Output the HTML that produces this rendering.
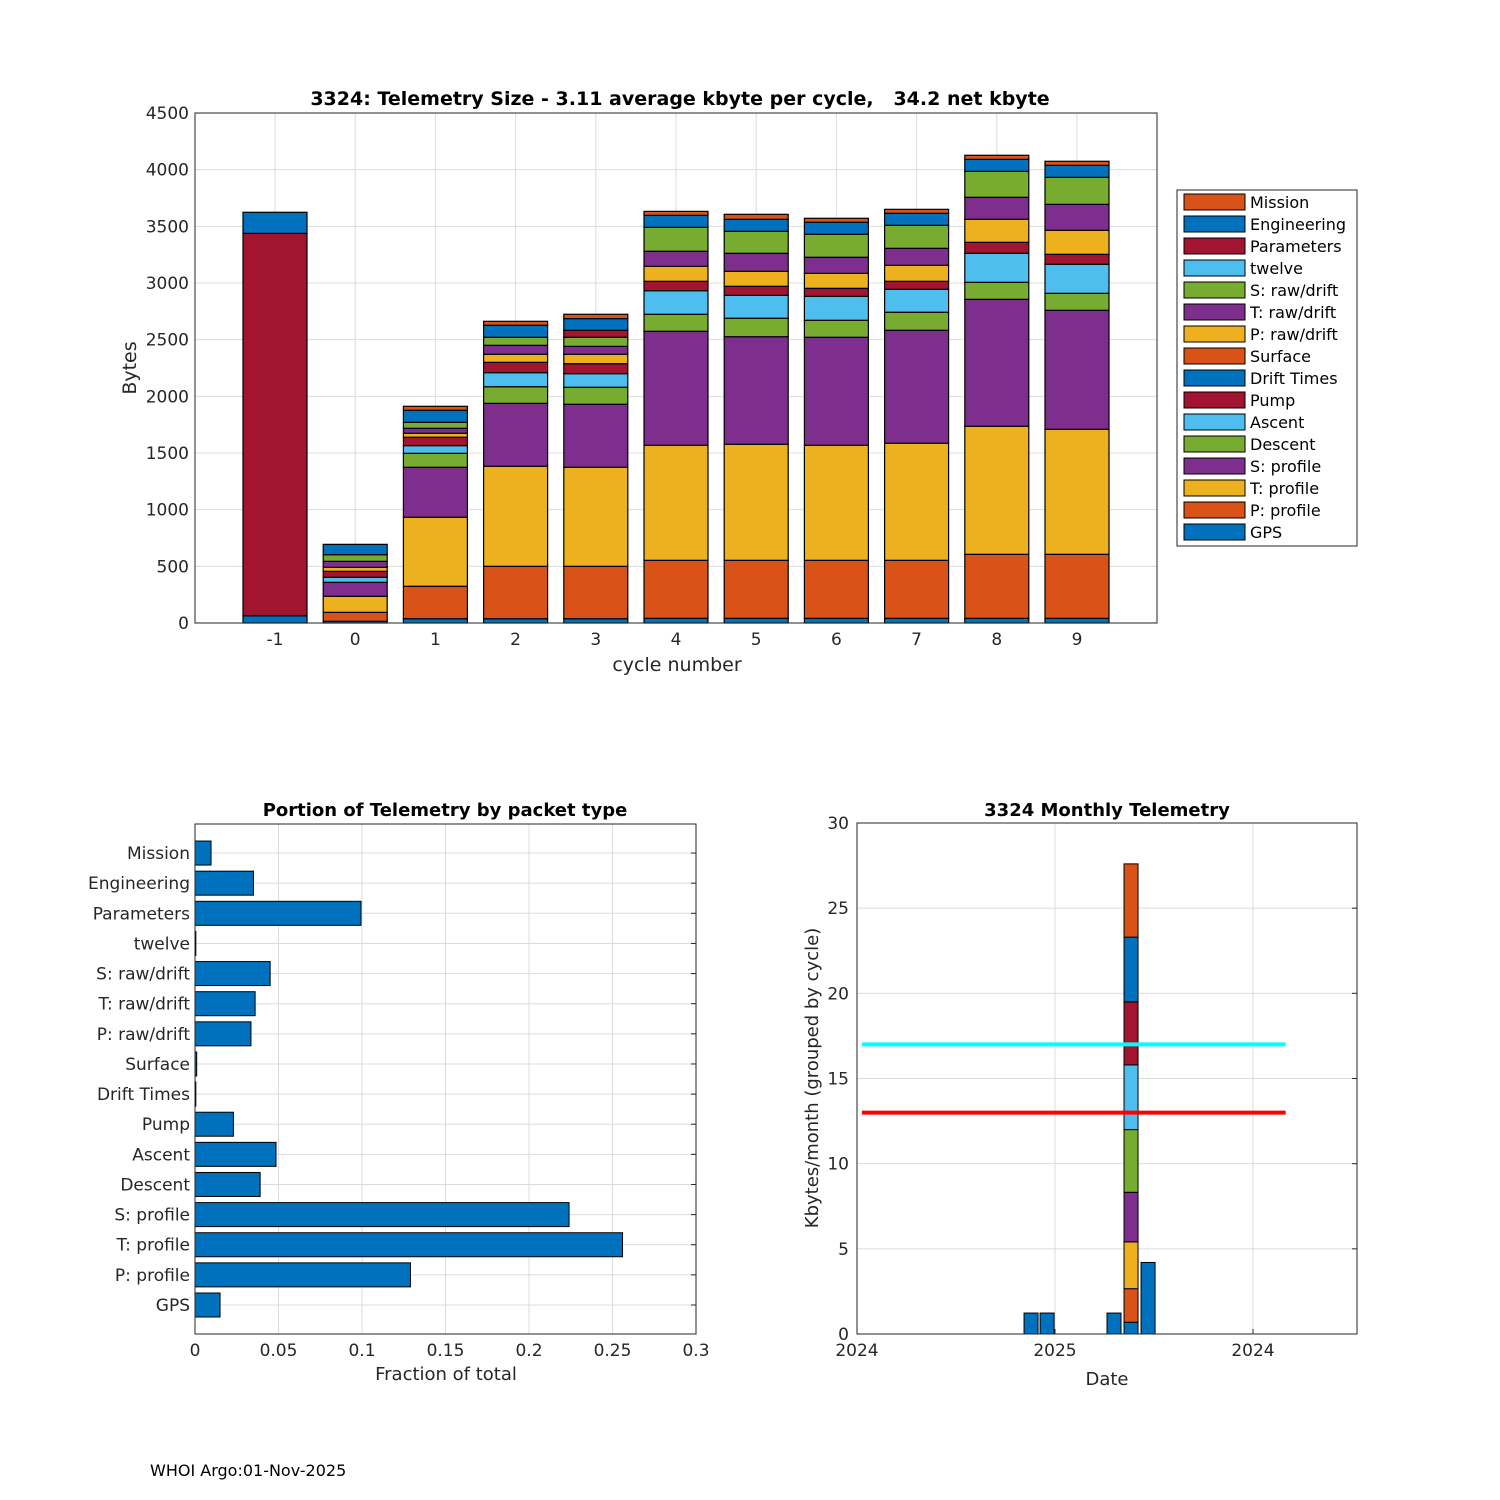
<!DOCTYPE html>
<html><head><meta charset="utf-8"><style>
body{margin:0;background:#fff;}
svg{display:block;font-family:"DejaVu Sans","Liberation Sans",sans-serif;}
</style></head><body>
<svg id="fig" width="1500" height="1500" viewBox="0 0 1500 1500" xmlns="http://www.w3.org/2000/svg"></svg>
<script>
// ---------- Top chart data ----------
const cycles = [-1,0,1,2,3,4,5,6,7,8,9];
const packetNames = ["GPS","P: profile","T: profile","S: profile","Descent","Ascent","Pump","Drift Times","Surface","P: raw/drift","T: raw/drift","S: raw/drift","twelve","Parameters","Engineering","Mission"];
const packetColors = ["#0072BD","#D95319","#EDB120","#7E2F8E","#77AC30","#4DBEEE","#A2142F","#0072BD","#D95319","#EDB120","#7E2F8E","#77AC30","#4DBEEE","#A2142F","#0072BD","#D95319"];
const bytesGPS      = [64,15,38,38,38,41,41,41,41,41,41];
const bytesPprof    = [0,79,286,462,462,512,512,512,512,565,565];
const bytesTprof    = [0,142,609,883,874,1015,1024,1015,1033,1130,1103];
const bytesSprof    = [0,123,441,555,556,1006,949,953,997,1120,1050];
const bytesDescent  = [0,0,123,147,150,150,163,150,159,150,150];
const bytesAscent   = [0,44,68,124,120,208,202,211,202,256,256];
const bytesPump     = [0,53,74,91,88,83,80,71,71,97,88];
const bytesDrift    = [0,0,0,0,0,0,0,0,0,0,0];
const bytesSurface  = [0,0,0,0,0,0,0,0,0,0,0];
const bytesPraw     = [0,35,35,71,83,132,132,132,141,203,212];
const bytesTraw     = [0,53,44,79,70,133,159,142,150,194,229];
const bytesSraw     = [0,59,53,71,80,211,194,203,203,229,238];
const bytesTwelve   = [0,0,0,0,0,0,0,0,0,0,0];
const bytesParams   = [3374,0,0,0,62,0,0,0,0,0,0];
const bytesEng      = [186,91,106,106,103,106,106,106,106,106,106];
const bytesMission  = [0,0,35,35,38,35,44,35,35,36,36];
const topYTicks = [0,500,1000,1500,2000,2500,3000,3500,4000,4500];

// ---------- Bottom-left data ----------
const fracNames = ["GPS","P: profile","T: profile","S: profile","Descent","Ascent","Pump","Drift Times","Surface","P: raw/drift","T: raw/drift","S: raw/drift","twelve","Parameters","Engineering","Mission"];
const fracValues = [0.015,0.129,0.256,0.224,0.039,0.0485,0.023,0.0005,0.001,0.0335,0.036,0.045,0.0005,0.0994,0.035,0.0096];
const fracTicks = [0,0.05,0.1,0.15,0.2,0.25,0.3];
const fracTickLabels = ["0","0.05","0.1","0.15","0.2","0.25","0.3"];

// ---------- Bottom-right data ----------
const monthX = [0.879,0.960,1.298,1.384,1.470];
const monthSingle = [1.23,1.23,1.23,null,4.2];
const stackCum = [0.69,2.66,5.41,8.32,12.0,15.8,19.5,23.3,27.6];
const stackColors = ["#0072BD","#D95319","#EDB120","#7E2F8E","#77AC30","#4DBEEE","#A2142F","#0072BD","#D95319"];
const dateTicks = [0,1,2];
const dateTickLabels = ["2024","2025","2024"];
const kbTicks = [0,5,10,15,20,25,30];
const limitLines = [17,13];
const limitColors = ["#00FFFF","#FF0000"];
const limitRange = [0.025,2.165];

const NS="http://www.w3.org/2000/svg";
const svg=document.getElementById('fig');
function mk(tag,attrs,parent,text){const e=document.createElementNS(NS,tag);for(const k in attrs)e.setAttribute(k,attrs[k]);if(text!==undefined)e.textContent=text;(parent||svg).appendChild(e);return e;}

// ===== Top chart =====
const T={x0:195,x1:1157,y0:623,y1:113};
const tx=c=>275+(c+1)*80.2;
const ty=v=>T.y0-(v/4500)*(T.y0-T.y1);
const gTop=mk('g',{});


mk('rect',{x:T.x0,y:T.y1,width:T.x1-T.x0,height:T.y0-T.y1,fill:'#fff'},gTop);
topYTicks.forEach(v=>{mk('line',{x1:T.x0,x2:T.x1,y1:ty(v),y2:ty(v),stroke:'#dcdcdc','stroke-width':1},gTop);
 const t=mk('text',{x:T.x0-6,y:ty(v)+6,'text-anchor':'end','font-size':17,fill:'#262626'},gTop,String(v));
 });
cycles.forEach(c=>{mk('line',{x1:tx(c),x2:tx(c),y1:T.y1,y2:T.y0,stroke:'#dcdcdc'},gTop);
 const t=mk('text',{x:tx(c),y:T.y0+22,'text-anchor':'middle','font-size':17,fill:'#262626'},gTop,String(c));
 });
const series=[bytesGPS,bytesPprof,bytesTprof,bytesSprof,bytesDescent,bytesAscent,bytesPump,bytesDrift,bytesSurface,bytesPraw,bytesTraw,bytesSraw,bytesTwelve,bytesParams,bytesEng,bytesMission];
cycles.forEach((c,i)=>{let cum=0;series.forEach((s,k)=>{const v=s[i];if(v<=0)return;
 const r=mk('rect',{x:tx(c)-32,y:ty(cum+v),width:64,height:ty(cum)-ty(cum+v),fill:packetColors[k],stroke:'#000','stroke-width':1.2},gTop);
 
 cum+=v;});});
mk('rect',{x:T.x0,y:T.y1,width:T.x1-T.x0,height:T.y0-T.y1,fill:'none',stroke:'#262626','stroke-width':1},gTop);
let tt=mk('text',{x:680,y:105,'text-anchor':'middle','font-size':19,'font-weight':'bold',style:'white-space:pre'},gTop,'3324: Telemetry Size - 3.11 average kbyte per cycle,   34.2 net kbyte');

tt=mk('text',{x:677,y:671,'text-anchor':'middle','font-size':19,fill:'#262626'},gTop,'cycle number');

tt=mk('text',{x:136,y:368,'text-anchor':'middle','font-size':19,fill:'#262626',transform:'rotate(-90 136 368)'},gTop,'Bytes');

const lg=mk('g',{},gTop);

mk('rect',{x:1177,y:190,width:180,height:356,fill:'#fff',stroke:'#262626'},lg);
for(let k=15;k>=0;k--){const row=15-k;const y=202+row*22;
 const e=mk('g',{},lg);
 mk('rect',{x:1184,y:y-8,width:61,height:16,fill:packetColors[k],stroke:'#000','stroke-width':1},e);
 mk('text',{x:1250,y:y+6,'font-size':16,fill:'#000'},e,packetNames[k]);}

// ===== Bottom-left =====
const L={x0:195,x1:696,y0:1334,y1:824};
const lx=v=>L.x0+v/0.3*(L.x1-L.x0);
const ly=i=>1305-i*30.13;
const gL=mk('g',{});
fracTicks.forEach((v,i)=>{mk('line',{x1:lx(v),x2:lx(v),y1:L.y1,y2:L.y0,stroke:'#dcdcdc'},gL);
 const t=mk('text',{x:lx(v),y:L.y0+22,'text-anchor':'middle','font-size':17,fill:'#262626'},gL,fracTickLabels[i]);
 });
fracNames.forEach((n,i)=>{mk('line',{x1:L.x0,x2:L.x1,y1:ly(i),y2:ly(i),stroke:'#dcdcdc'},gL);
 mk('line',{x1:L.x1-5,x2:L.x1,y1:ly(i),y2:ly(i),stroke:'#262626'},gL);
 const t=mk('text',{x:L.x0-5,y:ly(i)+6,'text-anchor':'end','font-size':17,fill:'#262626'},gL,n);
 
 const r=mk('rect',{x:L.x0,y:ly(i)-12,width:lx(fracValues[i])-L.x0,height:24,fill:'#0072BD',stroke:'#000','stroke-width':1},gL);
 });
mk('rect',{x:L.x0,y:L.y1,width:L.x1-L.x0,height:L.y0-L.y1,fill:'none',stroke:'#262626'},gL);
tt=mk('text',{x:445,y:816,'text-anchor':'middle','font-size':18,'font-weight':'bold'},gL,'Portion of Telemetry by packet type');

tt=mk('text',{x:446,y:1380,'text-anchor':'middle','font-size':18,fill:'#262626'},gL,'Fraction of total');


// ===== Bottom-right =====
const R={x0:857,x1:1357,y0:1334,y1:823};
const rx=v=>R.x0+v*198;
const ry=v=>R.y0-v/30*(R.y0-R.y1);
const gR=mk('g',{});
kbTicks.forEach(v=>{mk('line',{x1:R.x0,x2:R.x1,y1:ry(v),y2:ry(v),stroke:'#dcdcdc'},gR);
 mk('line',{x1:R.x1-5,x2:R.x1,y1:ry(v),y2:ry(v),stroke:'#262626'},gR);
 const t=mk('text',{x:R.x0-8,y:ry(v)+6,'text-anchor':'end','font-size':17,fill:'#262626'},gR,String(v));
 });
dateTicks.forEach((v,i)=>{mk('line',{x1:rx(v),x2:rx(v),y1:R.y1,y2:R.y0,stroke:'#dcdcdc'},gR);
 mk('line',{x1:rx(v),x2:rx(v),y1:R.y0,y2:R.y0-5,stroke:'#262626'},gR);
 const t=mk('text',{x:rx(v),y:R.y0+22,'text-anchor':'middle','font-size':17,fill:'#262626'},gR,dateTickLabels[i]);
 });
monthX.forEach((x,i)=>{if(monthSingle[i]!==null){const r=mk('rect',{x:rx(x)-7,y:ry(monthSingle[i]),width:14,height:ry(0)-ry(monthSingle[i]),fill:'#0072BD',stroke:'#000','stroke-width':1},gR);
 }
 else{let prev=0;stackCum.forEach((c,k)=>{const r=mk('rect',{x:rx(x)-7,y:ry(c),width:14,height:ry(prev)-ry(c),fill:stackColors[k],stroke:'#000','stroke-width':1},gR);
 prev=c;});}});
limitLines.forEach((v,i)=>{const l=mk('line',{x1:rx(limitRange[0]),x2:rx(limitRange[1]),y1:ry(v),y2:ry(v),stroke:limitColors[i],'stroke-width':4},gR);
 });
mk('rect',{x:R.x0,y:R.y1,width:R.x1-R.x0,height:R.y0-R.y1,fill:'none',stroke:'#262626'},gR);
tt=mk('text',{x:1107,y:816,'text-anchor':'middle','font-size':18,'font-weight':'bold'},gR,'3324 Monthly Telemetry');

tt=mk('text',{x:1107,y:1385,'text-anchor':'middle','font-size':18,fill:'#262626'},gR,'Date');

tt=mk('text',{x:818,y:1078,'text-anchor':'middle','font-size':18,fill:'#262626',transform:'rotate(-90 818 1078)'},gR,'Kbytes/month (grouped by cycle)');


tt=mk('text',{x:150,y:1476,'font-size':16,fill:'#000'},svg,'WHOI Argo:01-Nov-2025');

</script>
</body></html>
